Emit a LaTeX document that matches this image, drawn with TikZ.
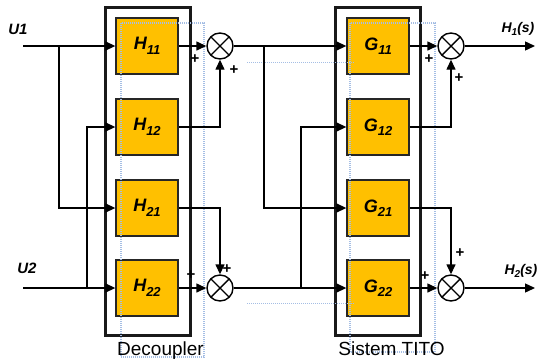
\documentclass[tikz,border=0pt]{standalone}
\usepackage{fontspec}
\setmainfont{Liberation Sans}
\usetikzlibrary{arrows.meta}
\definecolor{blkfill}{RGB}{255,192,0}
\definecolor{selblue}{RGB}{165,190,228}
\newcommand\blklab[2]{{\fontsize{18}{18}\selectfont\bfseries\itshape #1\raisebox{-4.5pt}{\fontsize{13}{13}\selectfont #2}}}
\newcommand\outlab[2]{{\fontsize{14}{14}\selectfont\bfseries\itshape #1\raisebox{-3pt}{\fontsize{10}{10}\selectfont #2}(s)}}
\begin{document}
\begin{tikzpicture}[x=1pt,y=-1pt,
  >={Triangle[length=10pt,width=9pt]},
  blockbox/.style={draw=black!85, fill=blkfill, line width=1.3pt, minimum width=62pt, minimum height=56pt, inner sep=0pt},
  outerbox/.style={draw=black!90, line width=3pt, inner sep=0pt},
  sumj/.style={circle, draw=black, fill=white, line width=1.4pt, minimum size=26pt, inner sep=0pt},
  conn/.style={draw=black, line width=1.4pt},
  plus/.style={font=\fontsize{15}{15}\selectfont\bfseries, inner sep=0pt},
  iolab/.style={font=\fontsize{15}{15}\selectfont\bfseries\itshape, inner sep=0pt},
  caption/.style={font=\fontsize{19}{19}\selectfont, inner sep=0pt, anchor=base},
  selbox/.style={draw=selblue, line width=1.4pt, dash pattern=on 1pt off 1pt}
]
\useasboundingbox (0,0) rectangle (537,362);
% outer boxes
\node[outerbox, minimum width=85pt, minimum height=328pt] (dec) at (147.5,171) {};
\node[outerbox, minimum width=85pt, minimum height=328pt] (tito) at (377.5,171) {};
% blocks
\node[blockbox] (H11) at (147,46) {\blklab{H}{11}};
\node[blockbox] (H12) at (147,127) {\blklab{H}{12}};
\node[blockbox] (H21) at (147,208) {\blklab{H}{21}};
\node[blockbox] (H22) at (147,288) {\blklab{H}{22}};
\node[blockbox] (G11) at (378,46) {\blklab{G}{11}};
\node[blockbox] (G12) at (378,127) {\blklab{G}{12}};
\node[blockbox] (G21) at (378,208) {\blklab{G}{21}};
\node[blockbox] (G22) at (378,288) {\blklab{G}{22}};
% selection overlays
\draw[selbox] (121,23) rectangle (204,357);
\draw[selbox] (350,23) rectangle (435,352);
\draw[selbox, line width=0.8pt] (247,62) -- (355,62);
\draw[selbox, line width=0.8pt] (247,303) -- (355,303);
% summing junctions
\node[sumj] (s1) at (220,46) {};
\node[sumj] (s2) at (220,288) {};
\node[sumj] (s3) at (451,46) {};
\node[sumj] (s4) at (451,288) {};
\foreach \s in {s1,s2,s3,s4}{
  \draw[line width=1.4pt] (\s.center) +(-9,-9) -- +(9,9);
  \draw[line width=1.4pt] (\s.center) +(-9,9) -- +(9,-9);
}
% inputs
\coordinate (u1) at (23,46);
\coordinate (u2) at (23,288);
\coordinate (b1) at (59,46);
\coordinate (b2) at (87,288);
\draw[conn,->] (u1) -- (H11.west);
\draw[conn,->] (b1) |- (H21.west);
\draw[conn,->] (u2) -- (H22.west);
\draw[conn,->] (b2) |- (H12.west);
% decoupler outputs
\draw[conn,->] (H11.east) -- (s1.west);
\draw[conn,->] (H12.east) -| (s1.south);
\draw[conn,->] (H21.east) -| (s2.north);
\draw[conn,->] (H22.east) -- (s2.west);
% to system
\coordinate (b3) at (264,46);
\coordinate (b4) at (301,288);
\draw[conn,->] (s1.east) -- (G11.west);
\draw[conn,->] (b3) |- (G21.west);
\draw[conn,->] (s2.east) -- (G22.west);
\draw[conn,->] (b4) |- (G12.west);
% system outputs
\draw[conn,->] (G11.east) -- (s3.west);
\draw[conn,->] (G12.east) -| (s3.south);
\draw[conn,->] (G21.east) -| (s4.north);
\draw[conn,->] (G22.east) -- (s4.west);
\coordinate (y1) at (535,46);
\coordinate (y2) at (535,288);
\draw[conn,->] (s3.east) -- (y1);
\draw[conn,->] (s4.east) -- (y2);
% signs
\node[plus] (p1) at (195,59) {+};
\node[plus] (p2) at (234,70) {+};
\node[plus] (p3) at (227,269) {+};
\node[plus] (p4) at (191,275) {+};
\node[plus] (p5) at (429,59) {+};
\node[plus] (p6) at (459,78) {+};
\node[plus] (p7) at (460,253) {+};
\node[plus] (p8) at (425,276) {+};
% labels
\node[iolab] (lu1) at (18,29) {U1};
\node[iolab] (lu2) at (27,268) {U2};
\node[inner sep=0pt] (ly1) at (518,29) {\outlab{H}{1}};
\node[inner sep=0pt] (ly2) at (521,271) {\outlab{H}{2}};
\node[caption] (cdec) at (160.5,355) {Decoupler};
\node[caption] (ctito) at (391.5,355) {Sistem TITO};
\end{tikzpicture}
\end{document}
